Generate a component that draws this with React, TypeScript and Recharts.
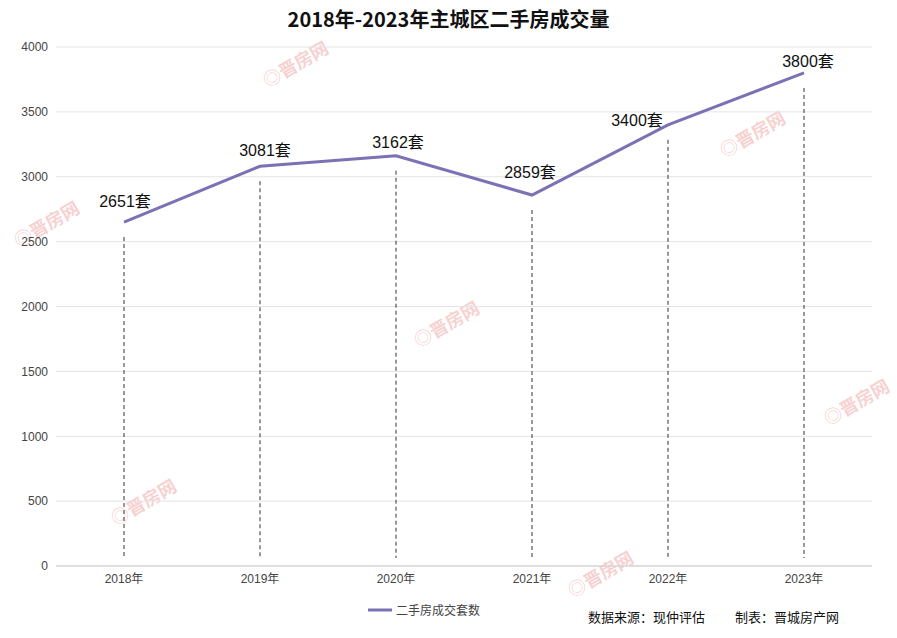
import { CartesianGrid, Line, LineChart, XAxis, YAxis } from 'recharts';

const years = ['2018年', '2019年', '2020年', '2021年', '2022年', '2023年'];
const deals = [2651, 3081, 3162, 2859, 3400, 3800];
const yTicks = [0, 500, 1000, 1500, 2000, 2500, 3000, 3500, 4000];

const W = 897;
const H = 638;
const X_AXIS_H = 30;
const MARGIN = { top: 47, right: 25, bottom: 42, left: 0 };
const PLOT_BOTTOM = H - MARGIN.bottom - X_AXIS_H;
const LINE = '#7a72b4';
const FONT = '"Liberation Sans", "Noto Sans CJK SC", sans-serif';
const CJK = '"Noto Sans CJK SC", sans-serif';
// small nudges so labels clear the line
const LABEL_DX = [1, 5, 2, -2, -31, 4];
const LABEL_DY = [-15, -10, -8, -17, 1, -6];

const data = years.map((year, i) => ({ year, deals: deals[i] }));

const marks = [
  { x: 295, y: 62 },
  { x: 752, y: 132 },
  { x: 46, y: 222 },
  { x: 446, y: 322 },
  { x: 143, y: 500 },
  { x: 600, y: 572 },
  { x: 856, y: 400 },
];

function DropLine(props: any) {
  const { cx, cy, index } = props;
  if (cx == null || cy == null) return null;
  return (
    <line
      key={`drop-${index}`}
      x1={cx}
      x2={cx}
      y1={cy + 15}
      y2={PLOT_BOTTOM - 8}
      stroke="#333"
      strokeWidth={1}
      strokeDasharray="4 3"
    />
  );
}

function ValueLabel(props: any) {
  const { x, y, value, index } = props;
  return (
    <text
      x={x + (LABEL_DX[index] ?? 0)}
      y={y + (LABEL_DY[index] ?? -12)}
      textAnchor="middle"
      fontSize={16}
      fill="#111"
      fontFamily={FONT}
    >
      {`${value}套`}
    </text>
  );
}

export default function App() {
  return (
    <div style={{ position: 'absolute', left: 0, top: 0, width: W, height: H, background: '#fff', fontFamily: FONT }}>
      {marks.map((m, i) => (
        <div
          key={i}
          style={{
            position: 'absolute',
            left: m.x - 45,
            top: m.y - 12,
            width: 90,
            textAlign: 'center',
            whiteSpace: 'nowrap',
            transform: 'rotate(-30deg)',
            color: 'rgba(232, 120, 120, 0.35)',
            fontSize: 18,
            fontWeight: 'bold',
            fontFamily: CJK,
          }}
        >
          ◎晋房网
        </div>
      ))}
      <div
        style={{
          position: 'absolute',
          top: 4,
          left: 0,
          width: W,
          textAlign: 'center',
          fontSize: 20,
          fontWeight: 'bold',
          color: '#111',
          fontFamily: CJK,
        }}
      >
        2018年-2023年主城区二手房成交量
      </div>
      <LineChart width={W} height={H} data={data} margin={MARGIN}>
        <CartesianGrid vertical={false} stroke="#e4e4e4" />
        <XAxis
          dataKey="year"
          height={X_AXIS_H}
          padding={{ left: 68, right: 68 }}
          tickLine={false}
          axisLine={{ stroke: '#ccc' }}
          tick={{ fill: '#444', fontSize: 12, fontFamily: FONT }}
        />
        <YAxis
          width={56}
          domain={[0, 4000]}
          ticks={yTicks}
          tickLine={false}
          axisLine={false}
          tick={{ fill: '#444', fontSize: 12, fontFamily: FONT }}
        />
        <Line
          type="linear"
          dataKey="deals"
          name="二手房成交套数"
          stroke={LINE}
          strokeWidth={3}
          dot={<DropLine />}
          activeDot={false}
          label={<ValueLabel />}
          isAnimationActive={false}
        />
      </LineChart>
      <div
        style={{
          position: 'absolute',
          left: 368,
          top: 601,
          display: 'flex',
          alignItems: 'center',
          fontSize: 12,
          color: '#444',
          fontFamily: CJK,
        }}
      >
        <svg width={24} height={6} style={{ marginRight: 4 }}>
          <line x1={0} x2={24} y1={3} y2={3} stroke={LINE} strokeWidth={3} />
        </svg>
        二手房成交套数
      </div>
      <div style={{ position: 'absolute', left: 588, top: 607, fontSize: 13, color: '#111', fontFamily: CJK }}>
        数据来源：现仲评估
      </div>
      <div style={{ position: 'absolute', left: 735, top: 607, fontSize: 13, color: '#111', fontFamily: CJK }}>
        制表：晋城房产网
      </div>
    </div>
  );
}
